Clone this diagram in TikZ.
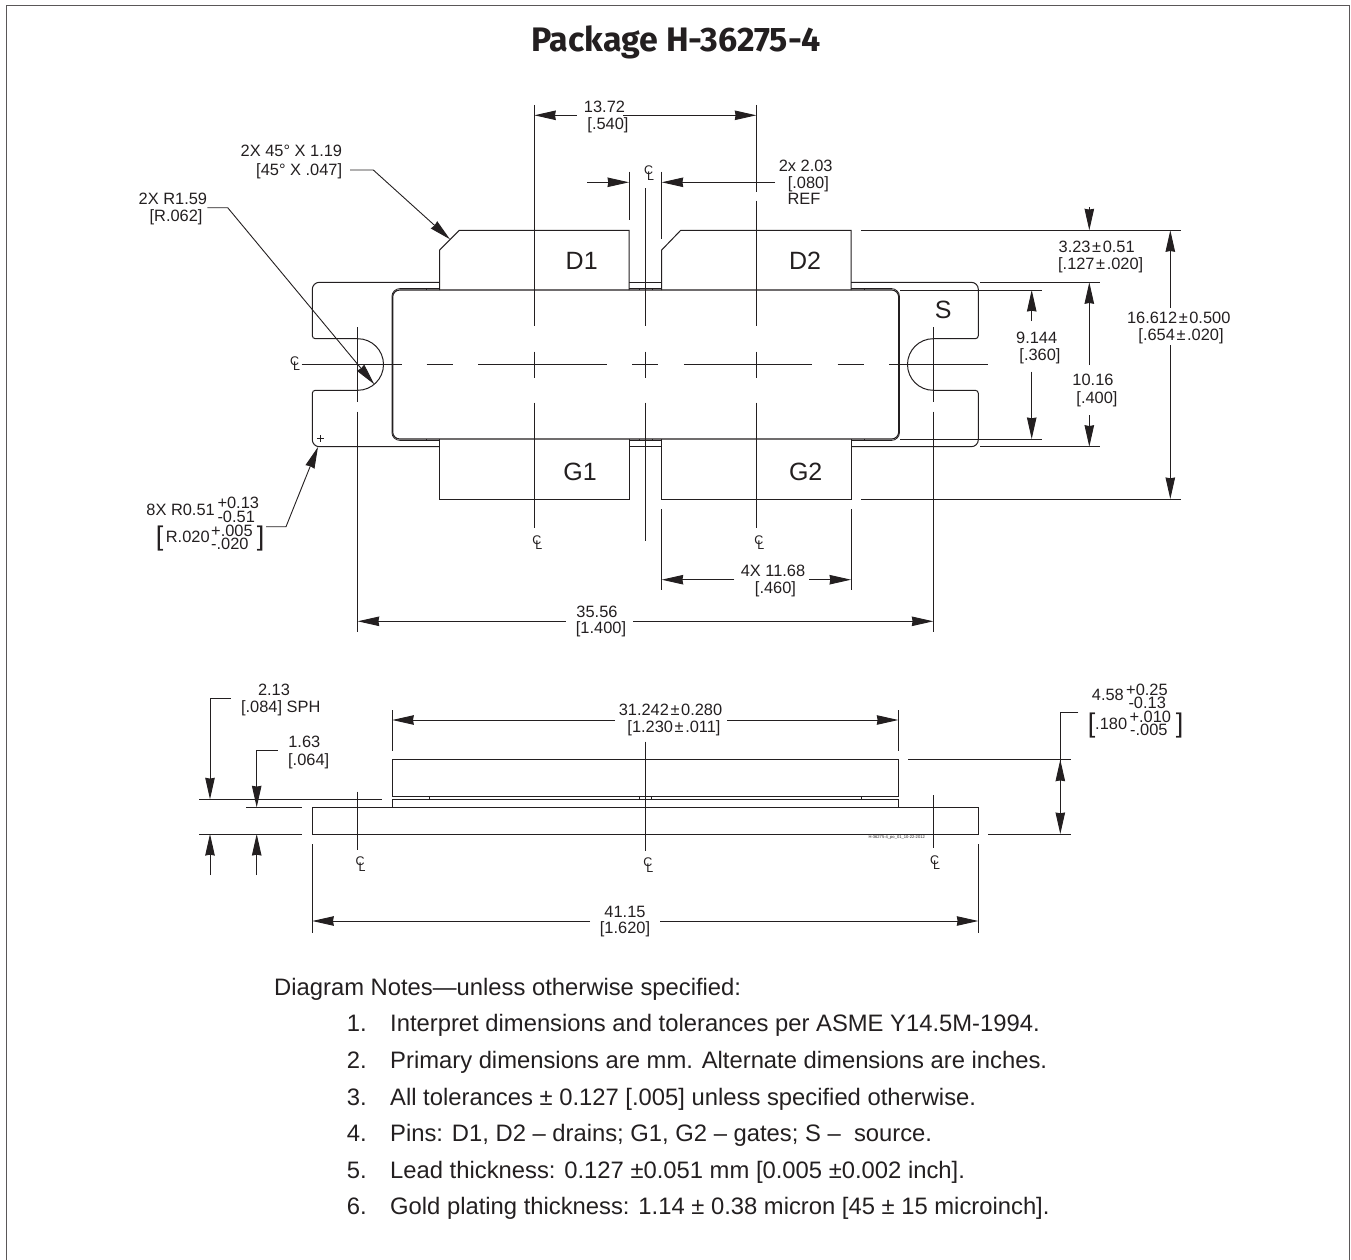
\documentclass[tikz,border=0pt]{standalone}
\usepackage{fontspec}
\usetikzlibrary{arrows.meta}
\setmainfont{Liberation Sans}
\newfontfamily\titlefont{Fira Sans}
\definecolor{ink}{HTML}{231F20}
\newcommand\clsym{\rlap{\raisebox{5.5pt}{C}}\kern3pt L}
\newcommand\pmk{\kern1.6pt±\kern1.6pt}
\tikzset{
  pkg/.style={draw=ink,line width=1pt},
  thin line/.style={draw=ink,line width=.8pt},
  dimline/.style={draw=ink,line width=.9pt},
  dimarrow/.style={draw=ink,line width=.9pt,-{Stealth[length=21.5pt,width=9.5pt,inset=.8pt]}},
  frameline/.style={draw=ink!75,line width=1.6pt},
  lbl/.style={inner sep=0pt,text=ink,font=\fontsize{16.4}{17}\selectfont,text height=11.8pt,text depth=0pt},
  pin/.style={inner sep=0pt,text=ink,font=\fontsize{25}{26}\selectfont},
  bigbr/.style={inner sep=0pt,text=ink,font=\fontsize{27}{27}\selectfont},
  clmark/.style={inner sep=0pt,text=ink,font=\fontsize{12.5}{13}\selectfont},
  note/.style={inner sep=0pt,text=ink,anchor=west,font=\fontsize{23.8}{25}\selectfont,text height=17pt,text depth=0pt},
}
\begin{document}
\begin{tikzpicture}[x=1pt,y=-1pt]
\useasboundingbox (0,0) rectangle (1351,1260);
% frame
\draw[frameline] (6.5,1260) -- (6.5,5.5) -- (1349.5,5.5) -- (1349.5,1260);
\node[inner sep=0pt,text=ink,font=\titlefont\bfseries\fontsize{34}{36}\selectfont] (title) at (676,42) {Package H-36275-4};

% ---------- top view: tabs
\draw[pkg] (439.7,290) -- (439.7,250) -- (459.3,230.3) -- (629,230.3) -- (629,290);
\draw[pkg] (661.7,290) -- (661.7,250) -- (680.7,230.3) -- (851,230.3) -- (851,290);
\draw[pkg] (439.7,439) -- (439.7,499) -- (629,499) -- (629,439);
\draw[pkg] (661.7,439) -- (661.7,499) -- (851,499) -- (851,439);
% flange left
\draw[pkg,rounded corners=7pt] (439.7,282.3) -- (312.3,282.3) -- (312.3,310);
\draw[pkg,rounded corners=3pt] (312.3,310) -- (312.3,338.7) -- (340,338.7);
\draw[pkg] (340,338.7) -- (357.7,338.7) arc[start angle=90,end angle=-90,radius=25.8pt] -- (340,390.3);
\draw[pkg,rounded corners=3pt] (340,390.3) -- (312.3,390.3) -- (312.3,420);
\draw[pkg,rounded corners=7pt] (312.3,420) -- (312.3,446.7) -- (439.7,446.7);
% flange right
\draw[pkg,rounded corners=7pt] (851,282.3) -- (978.3,282.3) -- (978.3,310);
\draw[pkg,rounded corners=3pt] (978.3,310) -- (978.3,338.7) -- (950,338.7);
\draw[pkg] (950,338.7) -- (933.3,338.7) arc[start angle=90,end angle=270,radius=25.8pt] -- (950,390.3);
\draw[pkg,rounded corners=3pt] (950,390.3) -- (978.3,390.3) -- (978.3,420);
\draw[pkg,rounded corners=7pt] (978.3,420) -- (978.3,446.7) -- (851,446.7);
% flange between tabs
\draw[pkg] (629,282.3) -- (661.7,282.3);
\draw[pkg] (629,446.7) -- (661.7,446.7);
% body
\draw[pkg,line width=1.1pt,rounded corners=7pt] (392.7,290) rectangle (898.7,439);
\draw[thin line,rounded corners=8pt] (439.7,288.6) -- (391.9,288.6) -- (391.9,440.4) -- (439.7,440.4);
\draw[thin line,rounded corners=8pt] (851,288.6) -- (899.5,288.6) -- (899.5,440.4) -- (851,440.4);
\draw[thin line] (629,288.6) -- (661.7,288.6);
\draw[thin line] (629,440.4) -- (661.7,440.4);
\foreach \tx in {426.7,864.3,639,652}{
  \draw[thin line] (\tx,288.6) -- (\tx,290);
  \draw[thin line] (\tx,439) -- (\tx,440.4);
}
% plus mark
\draw[thin line] (316.8,438.7) -- (323.8,438.7);
\draw[thin line] (320.3,435.2) -- (320.3,442.2);
% pin labels
\node[pin] (d1) at (581.7,260.7) {D1};
\node[pin] (d2) at (805,260.7) {D2};
\node[pin] (g1) at (580,471.7) {G1};
\node[pin] (g2) at (805.7,471.7) {G2};
\node[pin] (s) at (943.3,310) {S};

% ---------- center lines
\draw[dimline] (301.7,364.5) -- (401.7,364.5);
\draw[dimline] (426.7,364.5) -- (452.7,364.5);
\draw[dimline] (478.3,364.5) -- (606.7,364.5);
\draw[dimline] (632.3,364.5) -- (658.3,364.5);
\draw[dimline] (683.9,364.5) -- (812,364.5);
\draw[dimline] (837.6,364.5) -- (864,364.5);
\draw[dimline] (889,364.5) -- (988.3,364.5);
\foreach \cx/\ctop/\cbot in {534.3/105/528,645.3/188.3/540.7}{
  \draw[dimline] (\cx,\ctop) -- (\cx,326);
  \draw[dimline] (\cx,351.7) -- (\cx,377.7);
  \draw[dimline] (\cx,402.7) -- (\cx,\cbot);
}
\draw[dimline] (756.3,105) -- (756.3,191.7);
\draw[dimline] (756.3,200.7) -- (756.3,326);
\draw[dimline] (756.3,351.7) -- (756.3,377.7);
\draw[dimline] (756.3,402.7) -- (756.3,528);
\foreach \cx in {357.7,933.3}{
  \draw[dimline] (\cx,327.3) -- (\cx,401.7);
  \draw[dimline] (\cx,411.7) -- (\cx,631.7);
}
\node[clmark] (cl1) at (649,173) {\clsym};
\node[clmark] (cl2) at (295,363.5) {\clsym};
\node[clmark] (cl3) at (537.3,542.7) {\clsym};
\node[clmark] (cl4) at (759.3,542.7) {\clsym};

% ---------- top dimensions
\draw[dimarrow] (576.7,115.3) -- (534.3,115.3);
\draw[dimarrow] (623.3,115.3) -- (756.3,115.3);
\node[lbl] (a1) at (604.5,106.7) {13.72};
\node[lbl] (a2) at (608,123.3) {[.540]};

\draw[dimline] (629,171.7) -- (629,220);
\draw[dimline] (661.7,171.7) -- (661.7,239.3);
\draw[dimarrow] (587.3,182.3) -- (629,182.3);
\draw[dimarrow] (775,182.3) -- (661.7,182.3);
\node[lbl] (b1) at (805.7,165.3) {2x 2.03};
\node[lbl] (b2) at (808.3,182.3) {[.080]};
\node[lbl] (b3) at (804,199) {REF};

% leaders upper-left
\node[lbl,anchor=east] (c1) at (342.3,150.7) {2X 45° X 1.19};
\node[lbl,anchor=east] (c2) at (342.3,169.3) {[45° X .047]};
\draw[dimarrow] (350,170) -- (373.3,170) -- (450,239.3);
\node[lbl,anchor=east] (e1) at (207.3,198.3) {2X R1.59};
\node[lbl,anchor=east] (e2) at (202.7,216) {[R.062]};
\draw[dimarrow] (207.3,207.7) -- (227.7,207.7) -- (374.3,384.3);

% 8X label
\node[lbl,anchor=east] (f1) at (215,509.3) {8X R0.51};
\node[lbl,anchor=west] (f2) at (217.3,502.3) {+0.13};
\node[lbl,anchor=west] (f3) at (217.3,516.7) {-0.51};
\node[bigbr] (f4) at (159.5,538.5) {[};
\node[lbl,anchor=west] (f5) at (165.7,536.7) {R.020};
\node[lbl,anchor=west] (f6) at (211,530.7) {+.005};
\node[lbl,anchor=west] (f7) at (211,544) {-.020};
\node[bigbr] (f8) at (260.5,538.5) {]};
\draw[dimarrow] (266,526.7) -- (286,526.7) -- (318,446.9);

% right extension lines
\draw[dimline] (861,230.3) -- (1180.7,230.3);
\draw[dimline] (861,499) -- (1180.7,499);
\draw[dimline] (980,282.3) -- (1099.7,282.3);
\draw[dimline] (980,446.7) -- (1099.7,446.7);
\draw[dimline] (900,290) -- (1042.3,290);
\draw[dimline] (900,439) -- (1042.3,439);
% 3.23
\draw[dimarrow] (1089.3,207) -- (1089.3,230.3);
\node[lbl] (g1a) at (1096.7,246.7) {3.23\pmk 0.51};
\node[lbl] (g1b) at (1100.7,263.5) {[.127\pmk.020]};
% 9.144
\draw[dimarrow] (1031.7,321) -- (1031.7,290);
\draw[dimarrow] (1031.7,371.7) -- (1031.7,439);
\node[lbl] (h1) at (1036.7,337.3) {9.144};
\node[lbl] (h2) at (1040,355) {[.360]};
% 10.16
\draw[dimarrow] (1089.3,365) -- (1089.3,282.3);
\draw[dimarrow] (1089.3,415) -- (1089.3,446.7);
\node[lbl] (i1) at (1093,380) {10.16};
\node[lbl] (i2) at (1097,397.7) {[.400]};
% 16.612
\draw[dimarrow] (1170.3,307.7) -- (1170.3,230.3);
\draw[dimarrow] (1170.3,345) -- (1170.3,499);
\node[lbl] (j1) at (1178.7,317.3) {16.612\pmk 0.500};
\node[lbl] (j2) at (1181,335) {[.654\pmk.020]};
% 4X 11.68
\draw[dimline] (661.7,509) -- (661.7,590);
\draw[dimline] (851,509) -- (851,590);
\draw[dimarrow] (734.3,579.7) -- (661.7,579.7);
\draw[dimarrow] (809,579.7) -- (851,579.7);
\node[lbl] (k1) at (773,570.7) {4X 11.68};
\node[lbl] (k2) at (775.5,587.7) {[.460]};
% 35.56
\draw[dimarrow] (565.7,621.3) -- (357.7,621.3);
\draw[dimarrow] (633.3,621.3) -- (933.3,621.3);
\node[lbl] (m1) at (597,611.7) {35.56};
\node[lbl] (m2) at (601,628) {[1.400]};

% ---------- side view
\draw[pkg] (392.3,759.7) rectangle (898.3,796.3);
\draw[pkg] (392.3,807.3) -- (392.3,799.3) -- (898.3,799.3) -- (898.3,807.3);
\draw[pkg] (429.3,796.3) rectangle (639.3,799.3);
\draw[pkg] (651.3,796.3) rectangle (861.3,799.3);
\draw[pkg] (312.3,807.3) rectangle (978.3,834);
\node[inner sep=0pt,text=ink,font=\fontsize{4.1}{5}\selectfont] (code) at (896.7,837.7) {H-36275-4\_po\_01\_10-22-2012};
% extensions
\draw[dimline] (199.3,799.3) -- (382.3,799.3);
\draw[dimline] (246,807.3) -- (302.3,807.3);
\draw[dimline] (199.3,834) -- (302.3,834);
\draw[dimarrow] (230.7,698.3) -- (210,698.3) -- (210,799.3);
\draw[dimarrow] (210,875) -- (210,834);
\draw[dimarrow] (277.7,750.3) -- (256.7,750.3) -- (256.7,807.3);
\draw[dimarrow] (256.7,875) -- (256.7,834);
\node[lbl] (n1) at (274,689.3) {2.13};
\node[lbl] (n2) at (280.7,706.7) {[.084] SPH};
\node[lbl] (o1) at (304.3,741.7) {1.63};
\node[lbl] (o2) at (308.7,759.3) {[.064]};
% center lines
\draw[dimline] (357.3,791.7) -- (357.3,850);
\draw[dimline] (645.3,741.7) -- (645.3,851);
\draw[dimline] (933,795) -- (933,848.3);
\node[clmark] (cl5) at (360.7,864) {\clsym};
\node[clmark] (cl6) at (648.3,865) {\clsym};
\node[clmark] (cl7) at (935,862.7) {\clsym};
% 31.242
\draw[dimline] (392.3,710) -- (392.3,751);
\draw[dimline] (898.3,710) -- (898.3,751);
\draw[dimarrow] (615,720) -- (392.3,720);
\draw[dimarrow] (727,720) -- (898.3,720);
\node[lbl] (p1) at (670.5,710) {31.242\pmk 0.280};
\node[lbl] (p2) at (674,727) {[1.230\pmk.011]};
% 4.58
\draw[dimline] (908.3,759.7) -- (1071,759.7);
\draw[dimline] (988.3,834) -- (1071,834);
\draw[dimline] (1078.3,712.7) -- (1060.3,712.7) -- (1060.3,780);
\draw[dimarrow] (1060.3,790) -- (1060.3,759.7);
\draw[dimarrow] (1060.3,780) -- (1060.3,834);
\node[lbl,anchor=east] (q1) at (1124,695) {4.58};
\node[lbl,anchor=west] (q2) at (1126,690) {+0.25};
\node[lbl,anchor=west] (q3) at (1128.3,702.3) {-0.13};
\node[bigbr] (q4) at (1091.5,725.5) {[};
\node[lbl,anchor=west] (q5) at (1095,723.3) {.180};
\node[lbl,anchor=west] (q6) at (1129.3,716.7) {+.010};
\node[lbl,anchor=west] (q7) at (1130,730) {-.005};
\node[bigbr] (q8) at (1179.5,725.5) {]};
% 41.15
\draw[dimline] (312.3,844) -- (312.3,932.7);
\draw[dimline] (978.3,844) -- (978.3,932.7);
\draw[dimarrow] (590,921) -- (312.3,921);
\draw[dimarrow] (660,921) -- (978.3,921);
\node[lbl] (r1) at (625,912) {41.15};
\node[lbl] (r2) at (625,928) {[1.620]};

% ---------- notes
\node[note] (t0) at (274,986.5) {Diagram Notes—unless otherwise specified:};
\node[note] (n1a) at (346.7,1023) {1.};
\node[note] (n1b) at (390,1023) {Interpret dimensions and tolerances per ASME Y14.5M-1994.};
\node[note] (n2a) at (346.7,1060) {2.};
\node[note] (n2b) at (390,1060) {Primary dimensions are mm. Alternate dimensions are inches.};
\node[note] (n3a) at (346.7,1096.5) {3.};
\node[note] (n3b) at (390,1096.5) {All tolerances ± 0.127 [.005] unless specified otherwise.};
\node[note] (n4a) at (346.7,1133) {4.};
\node[note] (n4b) at (390,1133) {Pins: D1, D2 – drains; G1, G2 – gates; S –\ \ source.};
\node[note] (n5a) at (346.7,1169.5) {5.};
\node[note] (n5b) at (390,1169.5) {Lead thickness: 0.127 ±0.051 mm [0.005 ±0.002 inch].};
\node[note] (n6a) at (346.7,1206) {6.};
\node[note] (n6b) at (390,1206) {Gold plating thickness: 1.14 ± 0.38 micron [45 ± 15 microinch].};
\end{tikzpicture}
\end{document}
